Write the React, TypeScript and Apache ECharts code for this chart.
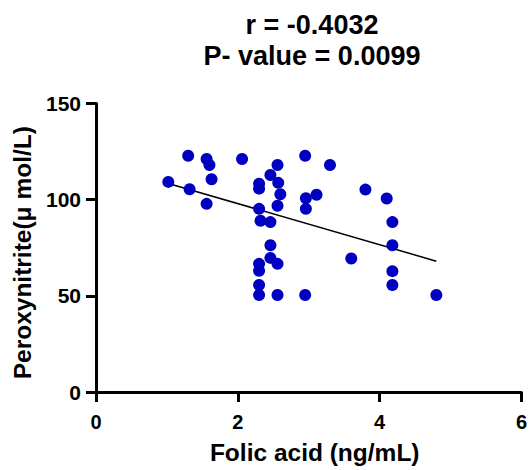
import React, { useEffect, useRef } from 'react';
import * as echarts from 'echarts';

const folicAcid = [
  1.02, 1.30, 1.32, 1.56, 1.60, 1.63, 1.56, 2.06, 2.30, 2.30,
  2.30, 2.32, 2.46, 2.46, 2.56, 2.57, 2.60, 2.56, 2.46, 2.46,
  2.56, 2.30, 2.30, 2.30, 2.30, 2.56, 2.95, 2.95, 2.96, 2.96,
  3.11, 3.30, 3.80, 4.10, 4.18, 4.18, 3.60, 4.18, 4.18, 4.80,
];
const peroxynitrite = [
  109.2, 122.8, 105.4, 121.1, 118.0, 110.6, 97.8, 121.1, 108.3, 105.7,
  95.2, 89.0, 88.3, 112.8, 118.0, 108.7, 102.8, 96.8, 76.3, 69.7,
  66.6, 66.6, 63.0, 55.6, 50.4, 50.4, 50.4, 122.8, 100.7, 95.2,
  102.5, 118.0, 105.2, 100.6, 88.3, 76.3, 69.4, 62.8, 55.6, 50.4,
];
const fitX = [1.02, 4.80];
const fitY = [108.4, 68.0];
const titleLines = ['r = -0.4032', 'P- value = 0.0099'];
const xAxisTitle = 'Folic acid (ng/mL)';
const yAxisTitle = 'Peroxynitrite(μ mol/L)';

const FONT = '"Liberation Sans", Arial, sans-serif';

export default function App() {
  const ref = useRef<HTMLDivElement>(null);
  useEffect(() => {
    const chart = echarts.init(ref.current!, null, { renderer: 'svg' });
    const axisLineStyle = { color: '#000', width: 3 };
    chart.setOption({
      animation: false,
      backgroundColor: '#fff',
      title: {
        text: titleLines.join('\n'),
        left: 312,
        top: 9.5,
        padding: 0,
        textAlign: 'center',
        textStyle: {
          fontFamily: FONT,
          fontWeight: 'bold',
          fontSize: 27,
          lineHeight: 31,
          color: '#000',
        },
      },
      grid: { left: 96, right: 3, top: 103.4, bottom: 76.5, containLabel: false },
      xAxis: {
        type: 'value',
        min: 0,
        max: 6,
        interval: 2,
        name: xAxisTitle,
        nameLocation: 'middle',
        nameGap: 48,
        nameTextStyle: {
          fontFamily: FONT,
          fontWeight: 'bold',
          fontSize: 24.5,
          color: '#000',
          padding: [0, 0, 0, 12],
        },
        axisLine: { show: true, onZero: false, lineStyle: axisLineStyle },
        axisTick: { show: true, inside: false, length: 10, lineStyle: axisLineStyle },
        axisLabel: {
          margin: 20,
          fontFamily: FONT,
          fontWeight: 'bold',
          fontSize: 20,
          color: '#000',
          showMaxLabel: true,
        },
        splitLine: { show: false },
      },
      yAxis: {
        type: 'value',
        min: 0,
        max: 150,
        interval: 50,
        name: yAxisTitle,
        nameLocation: 'middle',
        nameGap: 58,
        nameTextStyle: {
          fontFamily: FONT,
          fontWeight: 'bold',
          fontSize: 24.5,
          color: '#000',
          padding: [0, 10, 0, 0],
        },
        axisLine: { show: true, onZero: false, lineStyle: axisLineStyle },
        axisTick: { show: true, inside: false, length: 10, lineStyle: axisLineStyle },
        axisLabel: {
          margin: 15,
          fontFamily: FONT,
          fontWeight: 'bold',
          fontSize: 21,
          color: '#000',
        },
        splitLine: { show: false },
      },
      series: [
        {
          type: 'line',
          data: fitX.map((x, i) => [x, fitY[i]]),
          showSymbol: false,
          symbol: 'none',
          lineStyle: { color: '#000', width: 1.5 },
          z: 1,
        },
        {
          type: 'scatter',
          data: folicAcid.map((x, i) => [x, peroxynitrite[i]]),
          symbol: 'circle',
          symbolSize: 12,
          itemStyle: { color: '#0000c0', opacity: 1 },
          z: 2,
        },
      ],
    });
    return () => chart.dispose();
  }, []);
  return (
    <div
      ref={ref}
      style={{ position: 'fixed', left: 0, top: 0, width: 530, height: 470, background: '#fff' }}
    />
  );
}
